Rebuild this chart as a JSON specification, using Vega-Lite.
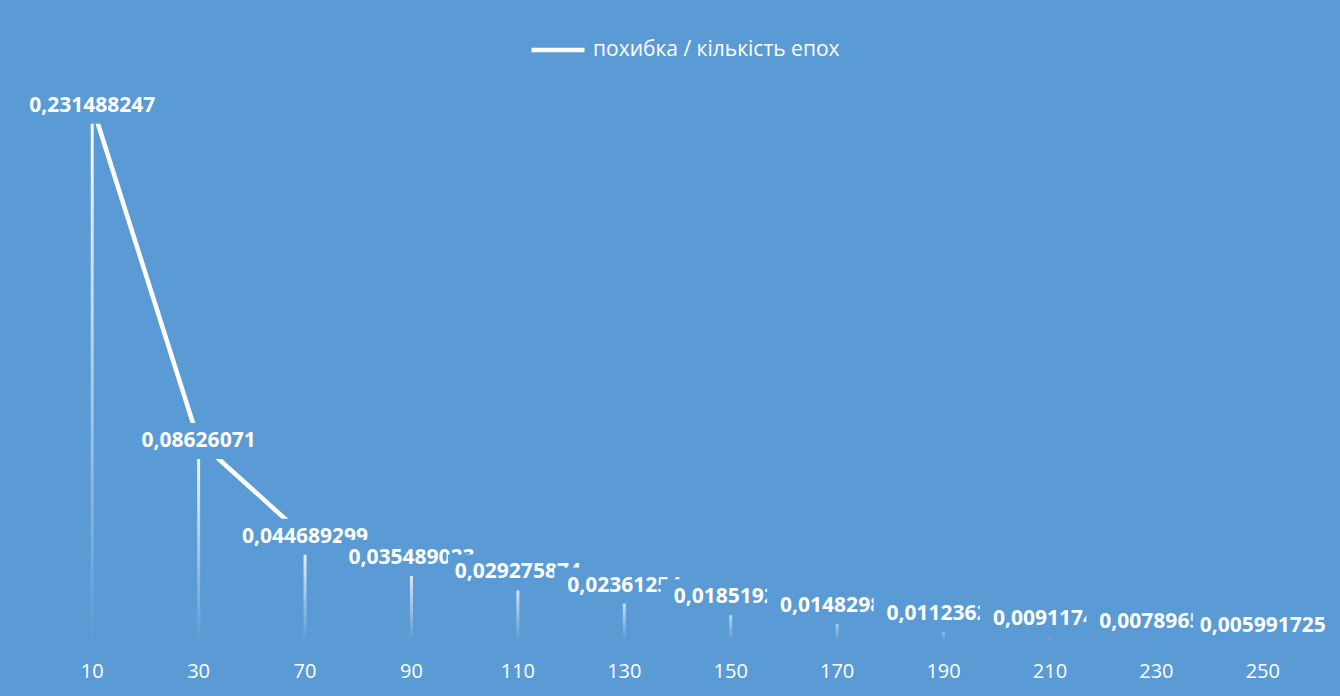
{
  "$schema": "https://vega.github.io/schema/vega-lite/v6.json",
  "width": 1277,
  "height": 577,
  "autosize": {"type": "none"},
  "padding": {"left": 39, "top": 63, "right": 24, "bottom": 56},
  "background": "#5B9BD5",
  "data": {
    "values": [
      {"epoch": "10", "value": 0.231488247, "label": "0,231488247"},
      {"epoch": "30", "value": 0.08626071, "label": "0,08626071"},
      {"epoch": "70", "value": 0.044689299, "label": "0,044689299"},
      {"epoch": "90", "value": 0.035489023, "label": "0,035489023"},
      {"epoch": "110", "value": 0.029275874, "label": "0,029275874"},
      {"epoch": "130", "value": 0.02361254, "label": "0,02361254"},
      {"epoch": "150", "value": 0.01851923, "label": "0,01851923"},
      {"epoch": "170", "value": 0.01482984, "label": "0,01482984"},
      {"epoch": "190", "value": 0.01123624, "label": "0,01123624"},
      {"epoch": "210", "value": 0.00911745, "label": "0,00911745"},
      {"epoch": "230", "value": 0.00789652, "label": "0,00789652"},
      {"epoch": "250", "value": 0.005991725, "label": "0,005991725"}
    ]
  },
  "encoding": {
    "x": {
      "field": "epoch",
      "type": "ordinal",
      "sort": ["10", "30", "70", "90", "110", "130", "150", "170", "190", "210", "230", "250"],
      "scale": {"paddingInner": 0, "paddingOuter": 0},
      "axis": {
        "title": null,
        "labelAngle": 0,
        "ticks": false,
        "domain": false,
        "grid": false,
        "labelColor": "#ffffff",
        "labelFont": "Open Sans",
        "labelFontSize": 20,
        "labelPadding": 21
      }
    },
    "y": {
      "field": "value",
      "type": "quantitative",
      "scale": {"domain": [0, 0.25], "nice": false, "zero": true},
      "axis": null
    }
  },
  "layer": [
    {
      "mark": {
        "type": "bar",
        "width": 3,
        "fill": {
          "gradient": "linear",
          "x1": 0, "y1": 0, "x2": 0, "y2": 1,
          "stops": [
            {"offset": 0, "color": "rgba(255,255,255,1)"},
            {"offset": 1, "color": "rgba(255,255,255,0)"}
          ]
        }
      }
    },
    {
      "mark": {"type": "line", "strokeWidth": 4.5, "strokeCap": "butt"},
      "encoding": {
        "color": {
          "datum": "похибка / кількість епох",
          "type": "nominal",
          "scale": {"range": ["#ffffff"]},
          "legend": {
            "title": null,
            "orient": "none",
            "legendX": 490,
            "legendY": -42,
            "padding": 0,
            "symbolType": "stroke",
            "symbolSize": 2809,
            "symbolStrokeWidth": 4.5,
            "symbolStrokeColor": "#ffffff",
            "labelColor": "#ffffff",
            "labelFont": "Open Sans",
            "labelFontSize": 21,
            "labelOffset": 6,
            "labelLimit": 400
          }
        }
      }
    },
    {"transform": [{"filter": {"field": "epoch", "equal": "10"}}], "mark": {"type": "point", "shape": "M-1,-0.257L1,-0.257L1,0.257L-1,0.257Z", "filled": true, "fill": "#5B9BD5", "stroke": null, "opacity": 1, "size": 19600}},
    {"transform": [{"filter": {"field": "epoch", "equal": "10"}}], "mark": {"type": "text", "fontWeight": "bold", "font": "Open Sans", "fontSize": 21, "color": "#ffffff", "baseline": "middle", "align": "center"}, "encoding": {"text": {"field": "label"}}},
    {"transform": [{"filter": {"field": "epoch", "equal": "30"}}], "mark": {"type": "point", "shape": "M-1,-0.257L1,-0.257L1,0.257L-1,0.257Z", "filled": true, "fill": "#5B9BD5", "stroke": null, "opacity": 1, "size": 19600}},
    {"transform": [{"filter": {"field": "epoch", "equal": "30"}}], "mark": {"type": "text", "fontWeight": "bold", "font": "Open Sans", "fontSize": 21, "color": "#ffffff", "baseline": "middle", "align": "center"}, "encoding": {"text": {"field": "label"}}},
    {"transform": [{"filter": {"field": "epoch", "equal": "70"}}], "mark": {"type": "point", "shape": "M-1,-0.257L1,-0.257L1,0.257L-1,0.257Z", "filled": true, "fill": "#5B9BD5", "stroke": null, "opacity": 1, "size": 19600}},
    {"transform": [{"filter": {"field": "epoch", "equal": "70"}}], "mark": {"type": "text", "fontWeight": "bold", "font": "Open Sans", "fontSize": 21, "color": "#ffffff", "baseline": "middle", "align": "center"}, "encoding": {"text": {"field": "label"}}},
    {"transform": [{"filter": {"field": "epoch", "equal": "90"}}], "mark": {"type": "point", "shape": "M-1,-0.257L1,-0.257L1,0.257L-1,0.257Z", "filled": true, "fill": "#5B9BD5", "stroke": null, "opacity": 1, "size": 19600}},
    {"transform": [{"filter": {"field": "epoch", "equal": "90"}}], "mark": {"type": "text", "fontWeight": "bold", "font": "Open Sans", "fontSize": 21, "color": "#ffffff", "baseline": "middle", "align": "center"}, "encoding": {"text": {"field": "label"}}},
    {"transform": [{"filter": {"field": "epoch", "equal": "110"}}], "mark": {"type": "point", "shape": "M-1,-0.257L1,-0.257L1,0.257L-1,0.257Z", "filled": true, "fill": "#5B9BD5", "stroke": null, "opacity": 1, "size": 19600}},
    {"transform": [{"filter": {"field": "epoch", "equal": "110"}}], "mark": {"type": "text", "fontWeight": "bold", "font": "Open Sans", "fontSize": 21, "color": "#ffffff", "baseline": "middle", "align": "center"}, "encoding": {"text": {"field": "label"}}},
    {"transform": [{"filter": {"field": "epoch", "equal": "130"}}], "mark": {"type": "point", "shape": "M-1,-0.257L1,-0.257L1,0.257L-1,0.257Z", "filled": true, "fill": "#5B9BD5", "stroke": null, "opacity": 1, "size": 19600}},
    {"transform": [{"filter": {"field": "epoch", "equal": "130"}}], "mark": {"type": "text", "fontWeight": "bold", "font": "Open Sans", "fontSize": 21, "color": "#ffffff", "baseline": "middle", "align": "center"}, "encoding": {"text": {"field": "label"}}},
    {"transform": [{"filter": {"field": "epoch", "equal": "150"}}], "mark": {"type": "point", "shape": "M-1,-0.257L1,-0.257L1,0.257L-1,0.257Z", "filled": true, "fill": "#5B9BD5", "stroke": null, "opacity": 1, "size": 19600}},
    {"transform": [{"filter": {"field": "epoch", "equal": "150"}}], "mark": {"type": "text", "fontWeight": "bold", "font": "Open Sans", "fontSize": 21, "color": "#ffffff", "baseline": "middle", "align": "center"}, "encoding": {"text": {"field": "label"}}},
    {"transform": [{"filter": {"field": "epoch", "equal": "170"}}], "mark": {"type": "point", "shape": "M-1,-0.257L1,-0.257L1,0.257L-1,0.257Z", "filled": true, "fill": "#5B9BD5", "stroke": null, "opacity": 1, "size": 19600}},
    {"transform": [{"filter": {"field": "epoch", "equal": "170"}}], "mark": {"type": "text", "fontWeight": "bold", "font": "Open Sans", "fontSize": 21, "color": "#ffffff", "baseline": "middle", "align": "center"}, "encoding": {"text": {"field": "label"}}},
    {"transform": [{"filter": {"field": "epoch", "equal": "190"}}], "mark": {"type": "point", "shape": "M-1,-0.257L1,-0.257L1,0.257L-1,0.257Z", "filled": true, "fill": "#5B9BD5", "stroke": null, "opacity": 1, "size": 19600}},
    {"transform": [{"filter": {"field": "epoch", "equal": "190"}}], "mark": {"type": "text", "fontWeight": "bold", "font": "Open Sans", "fontSize": 21, "color": "#ffffff", "baseline": "middle", "align": "center"}, "encoding": {"text": {"field": "label"}}},
    {"transform": [{"filter": {"field": "epoch", "equal": "210"}}], "mark": {"type": "point", "shape": "M-1,-0.257L1,-0.257L1,0.257L-1,0.257Z", "filled": true, "fill": "#5B9BD5", "stroke": null, "opacity": 1, "size": 19600}},
    {"transform": [{"filter": {"field": "epoch", "equal": "210"}}], "mark": {"type": "text", "fontWeight": "bold", "font": "Open Sans", "fontSize": 21, "color": "#ffffff", "baseline": "middle", "align": "center"}, "encoding": {"text": {"field": "label"}}},
    {"transform": [{"filter": {"field": "epoch", "equal": "230"}}], "mark": {"type": "point", "shape": "M-1,-0.257L1,-0.257L1,0.257L-1,0.257Z", "filled": true, "fill": "#5B9BD5", "stroke": null, "opacity": 1, "size": 19600}},
    {"transform": [{"filter": {"field": "epoch", "equal": "230"}}], "mark": {"type": "text", "fontWeight": "bold", "font": "Open Sans", "fontSize": 21, "color": "#ffffff", "baseline": "middle", "align": "center"}, "encoding": {"text": {"field": "label"}}},
    {"transform": [{"filter": {"field": "epoch", "equal": "250"}}], "mark": {"type": "point", "shape": "M-1,-0.257L1,-0.257L1,0.257L-1,0.257Z", "filled": true, "fill": "#5B9BD5", "stroke": null, "opacity": 1, "size": 19600}},
    {"transform": [{"filter": {"field": "epoch", "equal": "250"}}], "mark": {"type": "text", "fontWeight": "bold", "font": "Open Sans", "fontSize": 21, "color": "#ffffff", "baseline": "middle", "align": "center"}, "encoding": {"text": {"field": "label"}}}
  ],
  "config": {"view": {"stroke": null}}
}
